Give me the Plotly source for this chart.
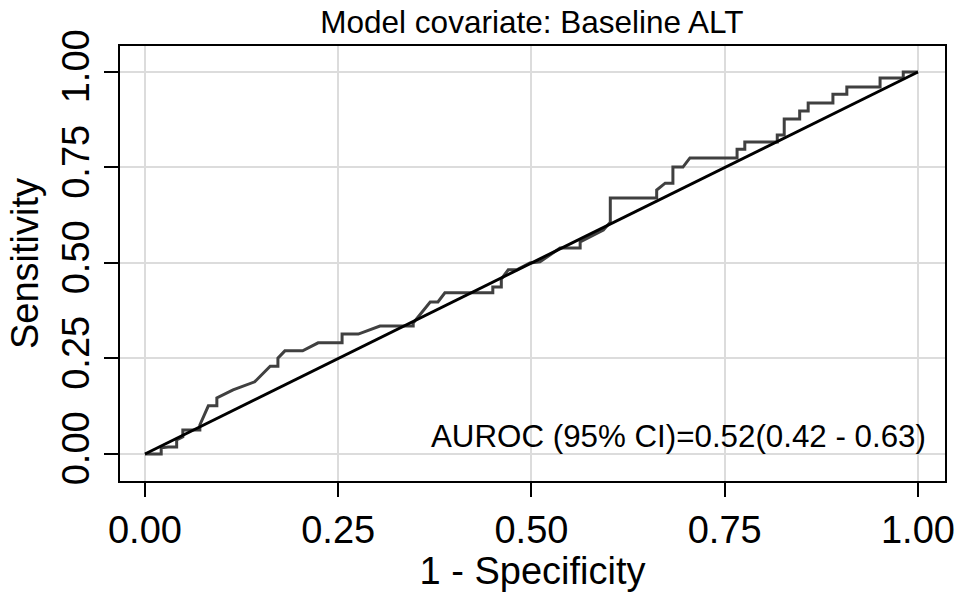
import plotly.graph_objects as go

# ROC curve points (1 - specificity, sensitivity)
fpr = [0.0, 0.021, 0.021, 0.030, 0.041, 0.041, 0.049, 0.049, 0.071, 0.071, 0.082, 0.093, 0.093,
       0.114, 0.142, 0.162, 0.172, 0.172, 0.181, 0.204, 0.224, 0.255, 0.255, 0.276, 0.304,
       0.347, 0.347, 0.369, 0.379, 0.388, 0.450, 0.450, 0.461, 0.461, 0.470, 0.481, 0.498,
       0.511, 0.537, 0.563, 0.563, 0.593, 0.602, 0.602, 0.662, 0.662, 0.673, 0.683, 0.683,
       0.696, 0.705, 0.766, 0.766, 0.776, 0.776, 0.818, 0.818, 0.827, 0.827, 0.847, 0.847,
       0.858, 0.858, 0.890, 0.890, 0.908, 0.908, 0.951, 0.951, 0.981, 0.981, 1.0]
tpr = [0.0, 0.0, 0.016, 0.018, 0.018, 0.037, 0.045, 0.063, 0.063, 0.076, 0.126, 0.126, 0.147,
       0.168, 0.189, 0.230, 0.230, 0.251, 0.270, 0.270, 0.291, 0.291, 0.314, 0.314, 0.335,
       0.335, 0.343, 0.398, 0.398, 0.422, 0.422, 0.437, 0.437, 0.458, 0.482, 0.482, 0.500,
       0.503, 0.539, 0.539, 0.555, 0.586, 0.607, 0.670, 0.670, 0.691, 0.709, 0.709, 0.751,
       0.751, 0.775, 0.775, 0.798, 0.798, 0.817, 0.817, 0.835, 0.835, 0.877, 0.877, 0.898,
       0.898, 0.919, 0.919, 0.942, 0.942, 0.961, 0.961, 0.984, 0.984, 1.0, 1.0]
ref_x = [0.0, 1.0]
ref_y = [0.0, 1.0]
tick_vals = [0.0, 0.25, 0.5, 0.75, 1.0]
tick_text = ["0.00", "0.25", "0.50", "0.75", "1.00"]
title_text = "Model covariate: Baseline ALT"
auroc_text = "AUROC (95% CI)=0.52(0.42 - 0.63)"

FONT = "Liberation Sans, Arial, sans-serif"

fig = go.Figure()
fig.add_trace(go.Scatter(x=fpr, y=tpr, mode="lines",
                         line=dict(color="#404040", width=3), showlegend=False))
fig.add_trace(go.Scatter(x=ref_x, y=ref_y, mode="lines",
                         line=dict(color="#000000", width=3), showlegend=False))

fig.update_layout(
    width=961, height=592,
    margin=dict(l=120, r=16, t=46, b=111),
    paper_bgcolor="white", plot_bgcolor="white",
    font=dict(family=FONT, color="black"),
    title=dict(text=title_text, x=0.5535, xanchor="center", y=0.963, yanchor="middle",
               font=dict(size=31.5, family=FONT, color="black")),
    annotations=[dict(text=auroc_text, x=0.0, y=0.0, xref="x", yref="y",
                      showarrow=False, xanchor="right", yanchor="middle",
                      font=dict(size=31.3, family=FONT, color="black"))],
)
fig.layout.annotations[0].x = 1.013
fig.layout.annotations[0].y = 0.045

fig.update_xaxes(range=[-0.0323, 1.035], tickvals=tick_vals, ticktext=tick_text, automargin=False,
                 showgrid=True, gridcolor="#dcdcdc", gridwidth=2,
                 zeroline=False, showline=True, linecolor="black", linewidth=2, mirror=True,
                 ticks="outside", ticklen=14, tickwidth=2, tickcolor="black",
                 tickfont=dict(size=38, family=FONT, color="black"),
                 title=dict(text="1 - Specificity", font=dict(size=38, family=FONT, color="black"),
                            standoff=0))
fig.update_yaxes(range=[-0.0707, 1.068], tickvals=tick_vals, ticktext=tick_text, automargin=False,
                 showgrid=True, gridcolor="#dcdcdc", gridwidth=2,
                 zeroline=False, showline=True, linecolor="black", linewidth=2, mirror=True,
                 ticks="outside", ticklen=14, tickwidth=2, tickcolor="black", tickangle=-90,
                 tickfont=dict(size=38, family=FONT, color="black"),
                 title=dict(text="Sensitivity", font=dict(size=38, family=FONT, color="black"),
                            standoff=4))

fig.write_html("out.html")
